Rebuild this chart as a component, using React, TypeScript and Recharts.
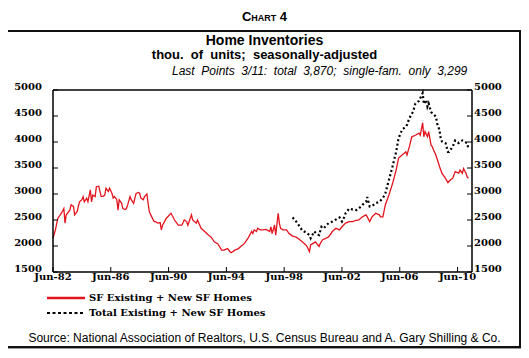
import React from 'react'
import { LineChart, Line, XAxis, YAxis, ReferenceLine } from 'recharts'

// months since Jun-82
const sfMonths = [0, 2, 4, 7, 9, 10, 11, 14, 15, 17, 18, 20, 22, 24, 25, 26, 28, 29, 31, 32, 33, 35, 36, 38, 39, 40, 42, 43, 44, 46, 47, 49, 50, 51, 53, 54, 55, 57, 58, 60, 61, 62, 64, 65, 67, 68, 69, 71, 72, 73, 75, 76, 78, 79, 80, 82, 84, 85, 87, 89, 90, 91, 94, 98, 101, 104, 107, 109, 111, 112, 115, 116, 119, 120, 123, 126, 129, 131, 134, 137, 140, 142, 145, 147, 148, 151, 154, 156, 159, 162, 165, 166, 167, 169, 170, 172, 174, 177, 180, 181, 182, 184, 185, 187, 188, 189, 191, 194, 196, 199, 202, 205, 207, 210, 211, 213, 214, 216, 218, 221, 222, 224, 227, 229, 231, 232, 235, 238, 240, 243, 246, 249, 251, 254, 257, 260, 261, 263, 265, 268, 271, 272, 274, 276, 279, 282, 285, 287, 290, 293, 294, 296, 298, 301, 304, 305, 307, 308, 309, 311, 312, 314, 315, 316, 318, 321, 323, 326, 328, 330, 332, 334, 337, 338, 340, 341, 343, 344, 345]
const sfValues = [2150, 2310, 2530, 2630, 2720, 2440, 2600, 2690, 2790, 2760, 2600, 2660, 2850, 2890, 2950, 2850, 2920, 2850, 3080, 2850, 2980, 2950, 3140, 3150, 3050, 2950, 2960, 2980, 3110, 3050, 3110, 3010, 2920, 2950, 2890, 2690, 2890, 2820, 2720, 2700, 2720, 2790, 2950, 2890, 2820, 2920, 3010, 3030, 3010, 2920, 2890, 2950, 3000, 2820, 2660, 2560, 2470, 2470, 2440, 2450, 2310, 2400, 2530, 2630, 2500, 2400, 2400, 2500, 2470, 2400, 2600, 2500, 2440, 2500, 2340, 2280, 2210, 2180, 2080, 2040, 1920, 1920, 1950, 1890, 1870, 1920, 1950, 1990, 2050, 2150, 2280, 2240, 2310, 2280, 2340, 2310, 2310, 2320, 2280, 2370, 2240, 2400, 2210, 2630, 2440, 2340, 2310, 2310, 2240, 2190, 2170, 2120, 2080, 2020, 1990, 1890, 2020, 2050, 2080, 1990, 2050, 2120, 2150, 2180, 2240, 2280, 2340, 2310, 2370, 2440, 2470, 2470, 2490, 2500, 2560, 2600, 2560, 2470, 2560, 2630, 2600, 2560, 2560, 2790, 2980, 3200, 3460, 3690, 3750, 3810, 3750, 3910, 4100, 4130, 4170, 4130, 4370, 4100, 4200, 4100, 4200, 3940, 3910, 3850, 3750, 3530, 3400, 3300, 3220, 3270, 3300, 3430, 3400, 3460, 3400, 3490, 3400, 3330, 3299]

const totalMonths = [199, 202, 205, 207, 210, 213, 214, 217, 219, 221, 223, 225, 227, 229, 232, 235, 238, 240, 242, 243, 246, 249, 252, 254, 257, 260, 261, 263, 265, 268, 271, 274, 276, 279, 282, 285, 287, 290, 293, 294, 296, 299, 301, 304, 305, 307, 308, 310, 311, 312, 314, 315, 318, 319, 321, 322, 323, 326, 328, 329, 332, 334, 337, 340, 343, 344, 345]
const totalValues = [2550, 2470, 2370, 2300, 2260, 2210, 2150, 2280, 2230, 2210, 2370, 2340, 2400, 2440, 2470, 2510, 2550, 2470, 2560, 2630, 2720, 2700, 2690, 2720, 2790, 2850, 2940, 2760, 2770, 2820, 2850, 2920, 3010, 3270, 3530, 3810, 4070, 4240, 4290, 4330, 4460, 4580, 4740, 4790, 4840, 4940, 4730, 4810, 4680, 4740, 4580, 4550, 4490, 4360, 4230, 4070, 4010, 3980, 3810, 3810, 3910, 4030, 3980, 4030, 3990, 3980, 3870]

const xTicks = [0, 48, 96, 144, 192, 240, 288, 336]
const xTickLabels = ['Jun-82', 'Jun-86', 'Jun-90', 'Jun-94', 'Jun-98', 'Jun-02', 'Jun-06', 'Jun-10']
const yTicks = [1500, 2000, 2500, 3000, 3500, 4000, 4500, 5000]

const sfData = sfMonths.map((m, i) => ({ m, v: sfValues[i] }))
const totalData = totalMonths.map((m, i) => ({ m, v: totalValues[i] }))

const RED = '#e3141d'
const tickFont = { fill: '#000', fontFamily: 'DejaVu Serif', fontWeight: 'bold', fontSize: 10 }
const sans = 'Liberation Sans, Arial, sans-serif'

function LegendBox() {
  const row = { display: 'flex', alignItems: 'center', height: 15 }
  const txt = { fontFamily: 'DejaVu Serif', fontWeight: 'bold' as const, fontSize: 10, marginLeft: 4 }
  return (
    <div>
      <div style={row}>
        <svg width={38} height={4}><line x1={0} y1={2} x2={38} y2={2} stroke={RED} strokeWidth={2.5} /></svg>
        <span style={txt}>SF Existing + New SF Homes</span>
      </div>
      <div style={row}>
        <svg width={38} height={4}><line x1={0} y1={2} x2={38} y2={2} stroke='#000' strokeWidth={2} strokeDasharray='3 2.5' /></svg>
        <span style={txt}>Total Existing + New SF Homes</span>
      </div>
    </div>
  )
}

function App() {
  return (
    <div style={{ position: 'relative', width: 529, height: 358, margin: -8, background: '#fff', fontFamily: sans }}>
      <div style={{ position: 'absolute', top: 9, width: 529, textAlign: 'center', fontWeight: 'bold', fontSize: 13, fontVariant: 'small-caps' }}>
        Chart 4
      </div>
      <div style={{ position: 'absolute', left: 5, top: 30, width: 512, height: 314, border: '2px solid #111', boxShadow: '1px 1px 0 #999' }} />
      <div style={{ position: 'absolute', top: 32, width: 529, textAlign: 'center', fontWeight: 'bold', fontSize: 14 }}>
        Home Inventories
      </div>
      <div style={{ position: 'absolute', top: 47, width: 529, textAlign: 'center', fontWeight: 'bold', fontSize: 13 }}>
        thou.&nbsp; of&nbsp; units;&nbsp; seasonally-adjusted
      </div>
      <div style={{ position: 'absolute', top: 64, left: 172, fontStyle: 'italic', fontSize: 12 }}>
        Last&nbsp; Points&nbsp; 3/11:&nbsp; total&nbsp; 3,870;&nbsp; single-fam.&nbsp; only&nbsp; 3,299
      </div>
      <div style={{ position: 'absolute', left: 47, top: 290 }}>
        <LegendBox />
      </div>
      <div style={{ position: 'absolute', top: 331, width: 529, textAlign: 'center', fontSize: 12 }}>
        Source: National Association of Realtors, U.S. Census Bureau and A. Gary Shilling &amp; Co.
      </div>
      <div style={{ position: 'absolute', left: 0, top: 0 }}>
        <LineChart width={529} height={358} margin={{ top: 90, right: 10, bottom: 66, left: 8 }}>
          <XAxis
            dataKey='m'
            type='number'
            domain={[0, 348]}
            ticks={xTicks}
            tickFormatter={(v: number) => xTickLabels[xTicks.indexOf(v)]}
            tick={tickFont}
            tickSize={-5}
            tickMargin={6}
            height={20}
            axisLine={{ stroke: '#000', strokeWidth: 1.5 }}
            tickLine={{ stroke: '#000' }}
            allowDuplicatedCategory={false}
          />
          <YAxis
            yAxisId='left'
            domain={[1500, 5000]}
            ticks={yTicks}
            width={45}
            tick={{ ...tickFont, dy: -4 }}
            tickSize={-5}
            tickMargin={16}
            axisLine={{ stroke: '#000', strokeWidth: 1.5 }}
            tickLine={{ stroke: '#000' }}
          />
          <YAxis
            yAxisId='right'
            orientation='right'
            domain={[1500, 5000]}
            ticks={yTicks}
            width={47}
            tick={{ ...tickFont, dy: -4 }}
            tickSize={-5}
            tickMargin={7}
            axisLine={{ stroke: '#000', strokeWidth: 1.5 }}
            tickLine={{ stroke: '#000' }}
          />
          <ReferenceLine yAxisId='left' y={5000} stroke='#000' strokeWidth={1.5} />
          <Line yAxisId='left' data={sfData} dataKey='v' type='linear' stroke={RED} strokeWidth={1.3} dot={false} isAnimationActive={false} />
          <Line yAxisId='right' data={totalData} dataKey='v' type='linear' stroke='#000' strokeWidth={2.2} strokeDasharray='2 2.5' dot={false} isAnimationActive={false} />
        </LineChart>
      </div>
    </div>
  )
}

export default App
